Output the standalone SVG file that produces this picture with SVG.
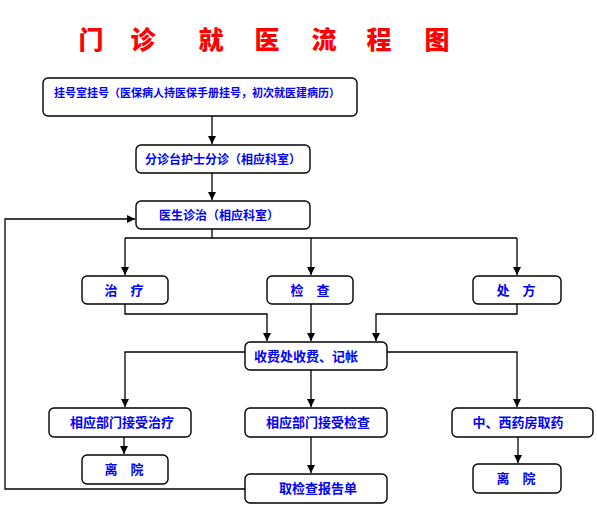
<svg xmlns="http://www.w3.org/2000/svg" width="597" height="510" viewBox="0 0 597 510">
<style>
.bx{fill:#fff;stroke:#000;stroke-width:1.4}
.t{font-family:"Noto Sans CJK SC","Noto Sans CJK JP",sans-serif;font-weight:bold;fill:#0000ff;font-size:13px;text-anchor:middle}
.c{fill:none;stroke:#000;stroke-width:1.3}
.ti{font-family:"Noto Sans CJK SC","Noto Sans CJK JP",sans-serif;font-weight:900;fill:#ff0000;font-size:25px;text-anchor:middle}
</style>
<defs>
<marker id="ah" viewBox="0 0 8 8" refX="8" refY="4" markerWidth="8" markerHeight="8" markerUnits="userSpaceOnUse" orient="auto">
<path d="M0,0 L8,4 L0,8 z" fill="#000"/>
</marker>
</defs>
<rect width="597" height="510" fill="#fff"/>
<g id="title"><text class="ti" x="91 143 211 267 324 379 437" y="49">门诊就医流程图</text></g>
<g id="connectors">
<path class="c" d="M212,116 V144" marker-end="url(#ah)"/>
<path class="c" d="M212,173 V200" marker-end="url(#ah)"/>
<path class="c" d="M212,229 V238 M125,238 H517"/>
<path class="c" d="M125,238 V275" marker-end="url(#ah)"/>
<path class="c" d="M311,238 V275" marker-end="url(#ah)"/>
<path class="c" d="M517,238 V275" marker-end="url(#ah)"/>
<path class="c" d="M125,304 V314 H267 V341" marker-end="url(#ah)"/>
<path class="c" d="M311,304 V341" marker-end="url(#ah)"/>
<path class="c" d="M517,304 V314 H376 V341" marker-end="url(#ah)"/>
<path class="c" d="M245,352 H125 V407" marker-end="url(#ah)"/>
<path class="c" d="M311,370 V407" marker-end="url(#ah)"/>
<path class="c" d="M387,352 H517 V407" marker-end="url(#ah)"/>
<path class="c" d="M124,437 V454" marker-end="url(#ah)"/>
<path class="c" d="M311,437 V473" marker-end="url(#ah)"/>
<path class="c" d="M518,437 V463" marker-end="url(#ah)"/>
<path class="c" d="M245,489 H5 V219 H135" marker-end="url(#ah)"/>
</g>
<g id="n1"><rect class="bx" x="43" y="78" width="314" height="38" rx="5"/><text class="t" x="197" y="97" style="font-size:11px">挂号室挂号（医保病人持医保手册挂号，初次就医建病历）</text></g>
<g id="n2"><rect class="bx" x="136" y="145" width="174" height="28" rx="5"/><text class="t" x="223" y="163.5" style="font-size:12px">分诊台护士分诊（相应科室）</text></g>
<g id="n3"><rect class="bx" x="136" y="201" width="174" height="28" rx="5"/><text class="t" x="219" y="220" style="font-size:12px">医生诊治（相应科室）</text></g>
<g id="n4"><rect class="bx" x="82" y="276" width="86" height="28" rx="5"/><text class="t" x="124" y="295">治　疗</text></g>
<g id="n5"><rect class="bx" x="267" y="276" width="86" height="28" rx="5"/><text class="t" x="310" y="295">检　查</text></g>
<g id="n6"><rect class="bx" x="473" y="276" width="88" height="28" rx="5"/><text class="t" x="516" y="295">处　方</text></g>
<g id="n7"><rect class="bx" x="245" y="342" width="142" height="28" rx="5"/><text class="t" x="306" y="361">收费处收费、记帐</text></g>
<g id="n8"><rect class="bx" x="49" y="408" width="142" height="29" rx="5"/><text class="t" x="122" y="427">相应部门接受治疗</text></g>
<g id="n9"><rect class="bx" x="245" y="408" width="142" height="29" rx="5"/><text class="t" x="318" y="427">相应部门接受检查</text></g>
<g id="n10"><rect class="bx" x="452" y="408" width="141" height="29" rx="5"/><text class="t" x="518" y="427">中、西药房取药</text></g>
<g id="n11"><rect class="bx" x="82" y="455" width="86" height="29" rx="5"/><text class="t" x="124" y="474">离　院</text></g>
<g id="n12"><rect class="bx" x="245" y="474" width="142" height="29" rx="5"/><text class="t" x="318" y="493">取检查报告单</text></g>
<g id="n13"><rect class="bx" x="473" y="464" width="88" height="29" rx="5"/><text class="t" x="516" y="483">离　院</text></g>
</svg>
